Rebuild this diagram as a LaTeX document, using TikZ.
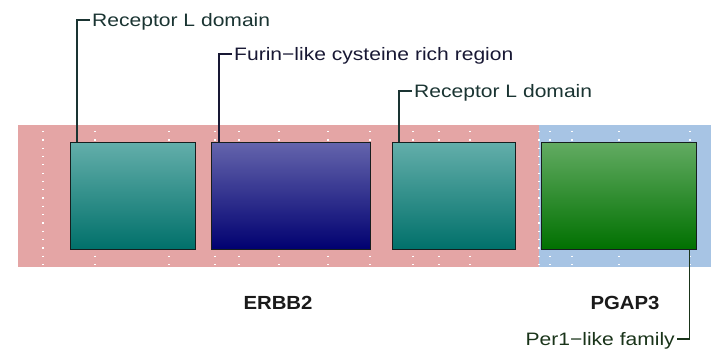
\documentclass[tikz,border=0pt]{standalone}
\usepackage{fontspec}
\setmainfont{Liberation Sans}
\newfontfamily\labfont[FakeStretch=1.17]{Liberation Sans}
\newfontfamily\genefont[FakeStretch=1.07]{Liberation Sans}
\usetikzlibrary{positioning, calc}

\definecolor{bgerbb}{RGB}{228,165,165}
\definecolor{bgpgap}{RGB}{167,196,228}
\definecolor{boxedge}{RGB}{22,30,30}
\definecolor{tealtop}{RGB}{99,174,170}
\definecolor{tealbot}{RGB}{0,112,106}
\definecolor{bluetop}{RGB}{100,100,172}
\definecolor{bluebot}{RGB}{0,0,112}
\definecolor{greentop}{RGB}{98,171,98}
\definecolor{greenbot}{RGB}{0,112,0}
\definecolor{teallab}{RGB}{26,52,50}
\definecolor{bluelab}{RGB}{24,24,52}
\definecolor{greenlab}{RGB}{26,52,26}
\definecolor{genetxt}{RGB}{26,26,26}

\tikzset{
  dombox/.style={draw=boxedge, line width=1.3pt, minimum width=#1,
    minimum height=107pt, inner sep=0pt, anchor=north west},
  lab/.style={font=\fontsize{18}{20}\labfont, text height=13pt,
    text depth=0pt, inner ysep=0pt, inner xsep=2pt},
  lead/.style={draw=#1, line width=1.4pt},
  gene/.style={font=\fontsize{19}{21}\genefont\bfseries, text=genetxt},
  griddots/.style={white, line width=1.3pt, dash pattern=on 1.3pt off 7pt}
}

\begin{document}
\begin{tikzpicture}[x=1pt, y=-1pt]
  \useasboundingbox (0,0) rectangle (719,358);
  % backgrounds of the two genes
  \fill[bgerbb] (18,125) rectangle (539,267);
  \fill[bgpgap] (539,125) rectangle (711,267);
  \foreach \gx in {43,95,169,215,239,279,328,370,413,439,470,539,550,572,619,690}
    \draw[griddots] (\gx,131) -- (\gx,266);

  % domains
  \node[dombox=125pt, top color=tealtop, bottom color=tealbot] (d1) at (70,142) {};
  \node[dombox=159pt, top color=bluetop, bottom color=bluebot] (d2) at (211,142) {};
  \node[dombox=123pt, top color=tealtop, bottom color=tealbot] (d3) at (392,142) {};
  \node[dombox=155pt, top color=greentop, bottom color=greenbot] (d4) at (541,142) {};

  % domain labels
  \node[lab, text=teallab, anchor=west] (l1) at (90,20) {Receptor L domain};
  \node[lab, text=bluelab, anchor=west] (l2) at (232,54) {Furin\textminus like cysteine rich region};
  \node[lab, text=teallab, anchor=west] (l3) at (412,91) {Receptor L domain};
  \node[lab, text=greenlab, anchor=east] (l4) at (677,339) {Per1\textminus like family};
  \draw[lead=teallab] ([xshift=7pt]d1.north west) |- (l1.west);
  \draw[lead=bluelab] ([xshift=8pt]d2.north west) |- (l2.west);
  \draw[lead=teallab] ([xshift=7pt]d3.north west) |- (l3.west);
  \draw[lead=greenlab] ([xshift=-8pt]d4.south east) |- (l4.east);

  % gene names
  \node[gene] (g1) at (278,303) {ERBB2};
  \node[gene] (g2) at (625,303) {PGAP3};
\end{tikzpicture}
\end{document}
